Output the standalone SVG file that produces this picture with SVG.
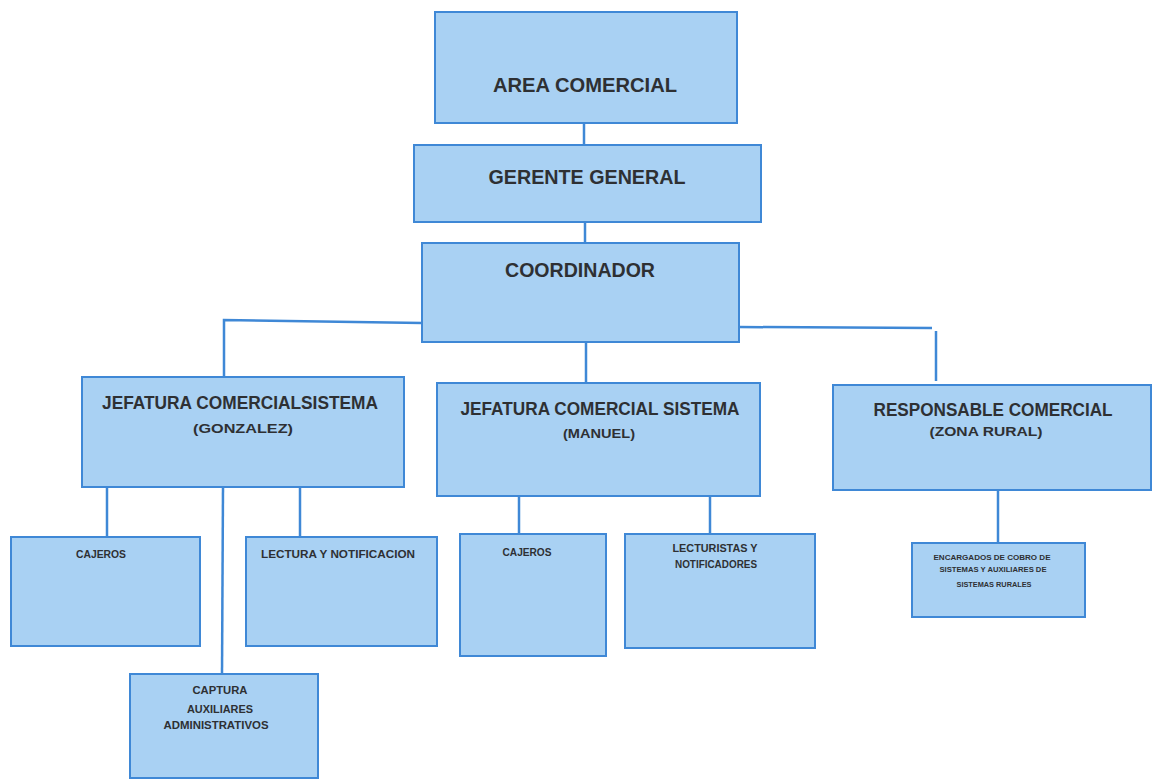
<svg xmlns="http://www.w3.org/2000/svg" width="1152" height="780" viewBox="0 0 1152 780">
<style>
.box{fill:#a9d1f3;stroke:#3f88d6;stroke-width:2}
.t{font-family:"Liberation Sans",Arial,sans-serif;font-weight:bold;fill:#2e3033;text-anchor:middle}
.xl{font-size:19.5px}
.l{font-size:17.5px}
.m{font-size:13.5px}
.s{font-size:10.5px}
.xs{font-size:6.5px}
.c{stroke:#3f88d6;stroke-width:2.5;fill:none}
</style>
<rect width="1152" height="780" fill="#ffffff"/>
<g id="connectors">
<line class="c" x1="584" y1="123" x2="584" y2="145"/>
<line class="c" x1="585" y1="222" x2="585" y2="243"/>
<polyline class="c" points="422,323 224,320 224,378"/>
<polyline class="c" points="739,327 932,328"/>
<line class="c" x1="936" y1="331" x2="936" y2="381"/>
<line class="c" x1="586" y1="342" x2="586" y2="383"/>
<line class="c" x1="107" y1="487" x2="107" y2="537"/>
<line class="c" x1="300" y1="487" x2="300" y2="537"/>
<line class="c" x1="223" y1="487" x2="222" y2="674"/>
<line class="c" x1="519" y1="496" x2="519" y2="534"/>
<line class="c" x1="710" y1="496" x2="710" y2="534"/>
<line class="c" x1="998" y1="490" x2="998" y2="543"/>
</g>
<g id="area-comercial">
<rect class="box" x="435" y="12" width="302" height="111"/>
<text class="t xl" x="585" y="92" textLength="184" lengthAdjust="spacingAndGlyphs">AREA COMERCIAL</text>
</g>
<g id="gerente-general">
<rect class="box" x="414" y="145" width="347" height="77"/>
<text class="t xl" x="587" y="184" textLength="197" lengthAdjust="spacingAndGlyphs">GERENTE GENERAL</text>
</g>
<g id="coordinador">
<rect class="box" x="422" y="243" width="317" height="99"/>
<text class="t xl" x="580" y="277" textLength="150" lengthAdjust="spacingAndGlyphs">COORDINADOR</text>
</g>
<g id="jefatura-gonzalez">
<rect class="box" x="82" y="377" width="322" height="110"/>
<text class="t l" x="240" y="409" textLength="276" lengthAdjust="spacingAndGlyphs">JEFATURA COMERCIALSISTEMA</text>
<text class="t m" x="243" y="433" textLength="100" lengthAdjust="spacingAndGlyphs">(GONZALEZ)</text>
</g>
<g id="jefatura-manuel">
<rect class="box" x="437" y="383" width="323" height="113"/>
<text class="t l" x="600" y="415" textLength="279" lengthAdjust="spacingAndGlyphs">JEFATURA COMERCIAL SISTEMA</text>
<text class="t m" x="599" y="438" textLength="72" lengthAdjust="spacingAndGlyphs">(MANUEL)</text>
</g>
<g id="responsable-comercial">
<rect class="box" x="833" y="385" width="318" height="105"/>
<text class="t l" x="993" y="416" textLength="239" lengthAdjust="spacingAndGlyphs">RESPONSABLE COMERCIAL</text>
<text class="t m" x="986" y="436" textLength="113" lengthAdjust="spacingAndGlyphs">(ZONA RURAL)</text>
</g>
<g id="cajeros-1">
<rect class="box" x="11" y="537" width="189" height="109"/>
<text class="t s" x="101" y="558" textLength="50" lengthAdjust="spacingAndGlyphs">CAJEROS</text>
</g>
<g id="lectura-notificacion">
<rect class="box" x="246" y="537" width="191" height="109"/>
<text class="t s" x="338" y="558" textLength="154" lengthAdjust="spacingAndGlyphs">LECTURA  Y NOTIFICACION</text>
</g>
<g id="captura">
<rect class="box" x="130" y="674" width="188" height="104"/>
<text class="t s" x="220" y="694" textLength="55" lengthAdjust="spacingAndGlyphs">CAPTURA</text>
<text class="t s" x="220" y="713" textLength="66" lengthAdjust="spacingAndGlyphs">AUXILIARES</text>
<text class="t s" x="216" y="729" textLength="105" lengthAdjust="spacingAndGlyphs">ADMINISTRATIVOS</text>
</g>
<g id="cajeros-2">
<rect class="box" x="460" y="534" width="146" height="122"/>
<text class="t s" x="527" y="556" textLength="49" lengthAdjust="spacingAndGlyphs">CAJEROS</text>
</g>
<g id="lecturistas">
<rect class="box" x="625" y="534" width="190" height="114"/>
<text class="t s" x="715" y="552" textLength="85" lengthAdjust="spacingAndGlyphs">LECTURISTAS  Y</text>
<text class="t s" x="716" y="568" textLength="82" lengthAdjust="spacingAndGlyphs">NOTIFICADORES</text>
</g>
<g id="encargados-rurales">
<rect class="box" x="912" y="543" width="173" height="74"/>
<text class="t xs" x="992" y="560" textLength="117" lengthAdjust="spacingAndGlyphs">ENCARGADOS  DE COBRO DE</text>
<text class="t xs" x="993" y="572" textLength="107" lengthAdjust="spacingAndGlyphs">SISTEMAS  Y AUXILIARES  DE</text>
<text class="t xs" x="994" y="587" textLength="75" lengthAdjust="spacingAndGlyphs">SISTEMAS  RURALES</text>
</g>
</svg>
